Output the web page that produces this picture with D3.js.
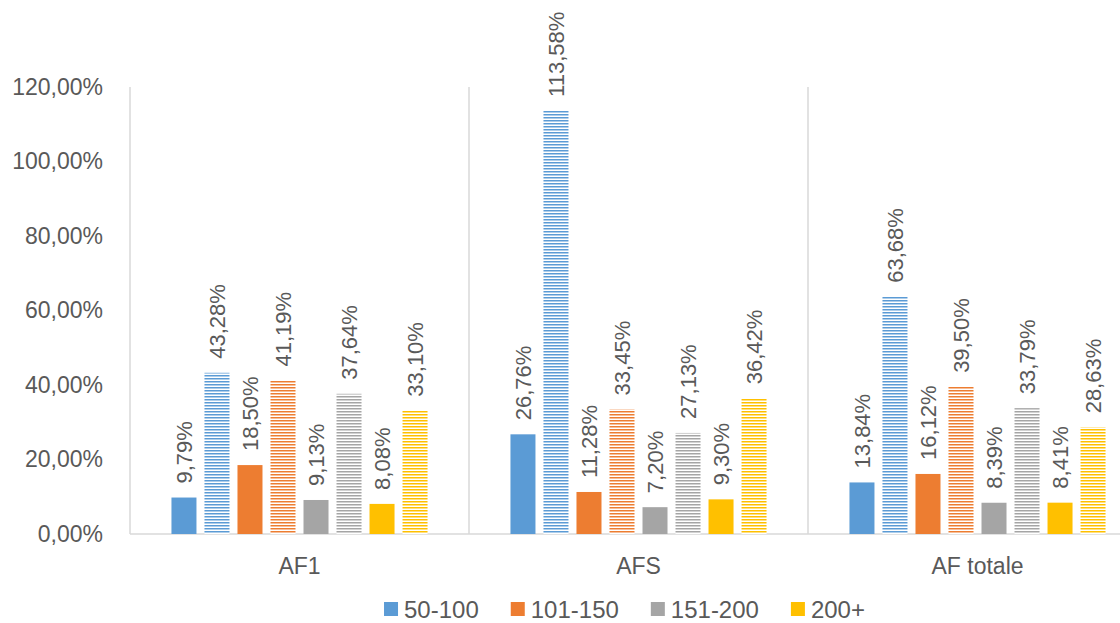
<!DOCTYPE html>
<html>
<head>
<meta charset="utf-8">
<script src="https://cdn.jsdelivr.net/npm/d3@7"></script>
<style>
  html, body { margin: 0; padding: 0; background: #fff; }
  svg { display: block; }
  text { font-family: "Liberation Sans", Arial, sans-serif; fill: #595959; }
</style>
</head>
<body>
<svg id="chart" width="1120" height="623"></svg>
<script>
// Categories and series
const categories = ["AF1", "AFS", "AF totale"];
const seriesNames = ["50-100", "101-150", "151-200", "200+"];
const seriesColors = ["#5B9BD5", "#ED7D31", "#A5A5A5", "#FFC000"];

// Solid bars, one array per series (AF1, AFS, AF totale)
const solid50 = [9.79, 26.76, 13.84];
const solid101 = [18.50, 11.28, 16.12];
const solid151 = [9.13, 7.20, 8.39];
const solid200 = [8.08, 9.30, 8.41];

// Striped bars, one array per series (AF1, AFS, AF totale)
const striped50 = [43.28, 113.58, 63.68];
const striped101 = [41.19, 33.45, 39.50];
const striped151 = [37.64, 27.13, 33.79];
const striped200 = [33.10, 36.42, 28.63];

// Y axis ticks
const yTicks = [0, 20, 40, 60, 80, 100, 120];

const solidValues = [solid50, solid101, solid151, solid200];
const stripedValues = [striped50, striped101, striped151, striped200];

const svg = d3.select("#chart");
const plotLeft = 130, groupWidth = 339;
const plotTop = 87, plotBottom = 534;

const locale = d3.formatLocale({ decimal: ",", thousands: ".", grouping: [3], currency: ["", "€"] });
const fmt = v => locale.format(".2f")(v) + "%";

const x0 = d3.scaleBand()
  .domain(categories)
  .range([plotLeft, plotLeft + groupWidth * categories.length])
  .padding(0);

const slots = d3.range(8);
const x1 = d3.scaleBand()
  .domain(slots)
  .range([0, x0.bandwidth()])
  .paddingInner(0.2424)
  .paddingOuter(1.256);

const y = d3.scaleLinear().domain([0, 120]).range([plotBottom, plotTop]);

// Horizontal stripe fills
const defs = svg.append("defs");
seriesColors.forEach((c, i) => {
  const p = defs.append("pattern")
    .attr("id", "stripe" + i)
    .attr("patternUnits", "userSpaceOnUse")
    .attr("width", 6).attr("height", 3);
  p.append("rect").attr("width", 6).attr("height", 3).attr("fill", "#fff");
  p.append("rect").attr("y", 0).attr("width", 6).attr("height", 1.5).attr("fill", c);
});

// Category separators and left axis line
const sepX = categories.map(c => x0(c)).concat([x0(categories[categories.length - 1]) + x0.bandwidth()]);
svg.append("g").selectAll("line")
  .data(sepX)
  .join("line")
  .attr("x1", d => d).attr("x2", d => d)
  .attr("y1", y(120)).attr("y2", y(0))
  .attr("stroke", "#d9d9d9").attr("stroke-width", 1.5);

// Baseline
svg.append("line")
  .attr("x1", plotLeft).attr("x2", sepX[sepX.length - 1])
  .attr("y1", y(0)).attr("y2", y(0))
  .attr("stroke", "#d9d9d9").attr("stroke-width", 1.5);

// Y axis labels
const yAxis = d3.axisLeft(y).tickValues(yTicks).tickFormat(fmt).tickSize(0).tickPadding(27);
const yg = svg.append("g").attr("transform", `translate(${plotLeft},0)`).call(yAxis);
yg.select(".domain").remove();
yg.selectAll("text").style("font-size", "23px").attr("fill", "#595959");

// X axis labels
const xAxis = d3.axisBottom(x0).tickSize(0).tickPadding(24);
const xg = svg.append("g").attr("transform", `translate(0,${plotBottom})`).call(xAxis);
xg.select(".domain").remove();
xg.selectAll("text").style("font-size", "23px").attr("fill", "#595959");

// Bar records
const bars = [];
categories.forEach((cat, ci) => {
  seriesNames.forEach((s, si) => {
    bars.push({ cat, si, slot: si * 2, value: solidValues[si][ci], striped: false });
    bars.push({ cat, si, slot: si * 2 + 1, value: stripedValues[si][ci], striped: true });
  });
});

svg.append("g").selectAll("rect")
  .data(bars)
  .join("rect")
  .attr("x", d => x0(d.cat) + x1(d.slot))
  .attr("width", x1.bandwidth())
  .attr("y", d => y(d.value))
  .attr("height", d => y(0) - y(d.value))
  .attr("fill", d => d.striped ? `url(#stripe${d.si})` : seriesColors[d.si]);

// Value labels, rotated
svg.append("g").selectAll("text")
  .data(bars)
  .join("text")
  .attr("transform", d => {
    const cx = x0(d.cat) + x1(d.slot) + x1.bandwidth() / 2;
    return `translate(${cx},${y(d.value) - 14}) rotate(-90)`;
  })
  .attr("dy", "0.36em")
  .attr("text-anchor", "start")
  .style("font-size", "22px")
  .text(d => fmt(d.value));

// Legend
const legend = svg.append("g");
const items = legend.selectAll("g")
  .data(seriesNames)
  .join("g");
items.append("rect")
  .attr("width", 14).attr("height", 14)
  .attr("y", -7)
  .attr("fill", (d, i) => seriesColors[i]);
items.append("text")
  .attr("x", 20)
  .attr("dy", "0.36em")
  .style("font-size", "24px")
  .text(d => d);

const gap = 32;
let cursor = 0;
items.each(function () {
  const g = d3.select(this);
  g.attr("transform", `translate(${cursor},0)`);
  const w = 20 + g.select("text").node().getComputedTextLength();
  cursor += w + gap;
});
const legendWidth = cursor - gap;
legend.attr("transform", `translate(${624.5 - legendWidth / 2},${609})`);
</script>
</body>
</html>
